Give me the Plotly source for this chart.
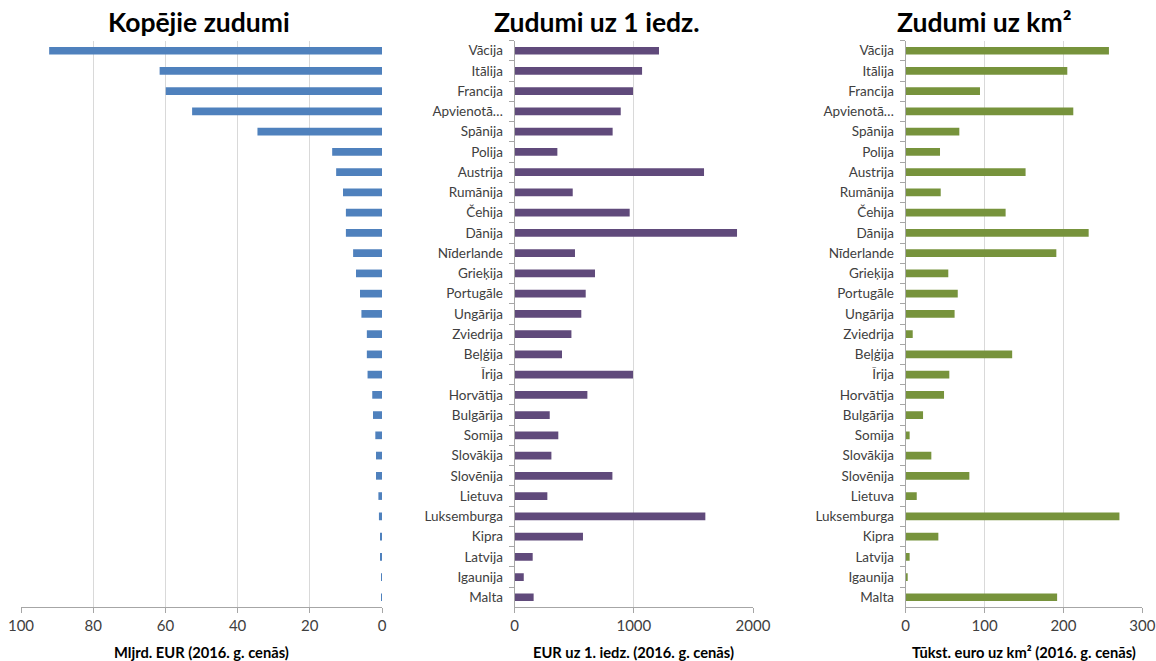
import plotly.graph_objects as go

countries = ["Vācija", "Itālija", "Francija", "Apvienotā…", "Spānija", "Polija", "Austrija",
             "Rumānija", "Čehija", "Dānija", "Nīderlande", "Grieķija", "Portugāle", "Ungārija",
             "Zviedrija", "Beļģija", "Īrija", "Horvātija", "Bulgārija", "Somija", "Slovākija",
             "Slovēnija", "Lietuva", "Luksemburga", "Kipra", "Latvija", "Igaunija", "Malta"]

total_bn_eur = [92.2, 61.6, 59.9, 52.6, 34.5, 13.8, 12.7, 10.8, 10.0, 10.0, 8.0, 7.2, 6.1, 5.7,
                4.2, 4.2, 4.0, 2.7, 2.5, 1.85, 1.66, 1.66, 1.0, 0.85, 0.45, 0.35, 0.1, 0.08]

per_capita_eur = [1211, 1069, 993, 890, 822, 358, 1589, 487, 965, 1866, 506, 674, 596, 559,
                  476, 397, 993, 610, 294, 366, 308, 820, 274, 1600, 573, 151, 76, 159]

per_km2_k_eur = [257.7, 204.9, 94.2, 212.5, 68, 43.5, 152, 44.4, 126.7, 232, 191, 54, 66, 62,
                 8.9, 135, 55.3, 48.6, 22, 5, 32.5, 80.7, 14, 271, 41.4, 5, 2, 192]

titles = ["Kopējie zudumi", "Zudumi uz 1 iedz.", "Zudumi uz km²"]
axis_titles = ["Mljrd. EUR (2016. g. cenās)", "EUR uz 1. iedz. (2016. g. cenās)",
               "Tūkst. euro uz km² (2016. g. cenās)"]
x_ticks = [[0, 20, 40, 60, 80, 100], [0, 1000, 2000], [0, 100, 200, 300]]
x_ranges = [[100, 0], [0, 2000], [0, 300]]
colors = ["#4F81BD", "#604A7B", "#77933C"]

W, H = 1156, 661
FONT = "Lato, 'Open Sans', sans-serif"
xdoms = [(21 / W, 382 / W), (514.7 / W, 753 / W), (905.7 / W, 1142.3 / W)]
ydom = ((661 - 607.4) / H, (661 - 40.6) / H)
xcent = [(a + b) / 2 for a, b in xdoms]

fig = go.Figure()
series = [total_bn_eur, per_capita_eur, per_km2_k_eur]
for i, vals in enumerate(series):
    sfx = "" if i == 0 else str(i + 1)
    fig.add_trace(go.Bar(
        x=vals, y=countries, orientation="h",
        marker=dict(color=colors[i], line=dict(width=0)),
        xaxis="x" + sfx, yaxis="y" + sfx, showlegend=False,
        hovertemplate="%{y}: %{x}<extra></extra>",
    ))
    fig.layout["xaxis" + sfx] = dict(
        domain=xdoms[i], range=x_ranges[i], tickvals=x_ticks[i],
        showgrid=True, gridcolor="#D9D9D9", gridwidth=1,
        showline=True, linecolor="#A6A6A6", linewidth=1,
        ticks="outside", ticklen=5, tickcolor="#A6A6A6",
        tickfont=dict(family=FONT, size=15, color="#404040"),
        zeroline=False, anchor="y" + sfx, fixedrange=True, automargin=False,
    )
    fig.layout["yaxis" + sfx] = dict(
        domain=ydom, type="category", autorange="reversed",
        showticklabels=(i != 0),
        showline=(i != 0), linecolor="#A6A6A6", linewidth=1,
        ticks="outside" if i != 0 else "", ticklen=5, tickcolor="#A6A6A6",
        tickson="boundaries", ticklabelstandoff=8,
        tickfont=dict(family=FONT, size=13.5, color="#404040"),
        showgrid=False, zeroline=False, anchor="x" + sfx, fixedrange=True,
        automargin=False,
    )
    fig.add_annotation(text="<b>" + axis_titles[i] + "</b>", x=xcent[i], y=1 - 652 / H,
                       xref="paper", yref="paper", showarrow=False,
                       xanchor="center", yanchor="middle",
                       font=dict(family=FONT, size=14.7, color="#000000"))

title_x = [199, 597, 984]
for i, t in enumerate(titles):
    fig.add_annotation(text="<b>" + t + "</b>", x=title_x[i] / W, y=1 - 22 / H,
                       xref="paper", yref="paper", showarrow=False,
                       xanchor="center", yanchor="middle",
                       font=dict(family=FONT, size=26.5, color="#000000"))

fig.update_layout(
    width=W, height=H, margin=dict(l=0, r=0, t=0, b=0, autoexpand=False),
    paper_bgcolor="white", plot_bgcolor="white",
    bargap=0.62, font=dict(family=FONT),
)
fig.write_html("out.html", config={"displayModeBar": False},
               post_script="document.body.style.margin='0';document.body.style.overflow='hidden';")
